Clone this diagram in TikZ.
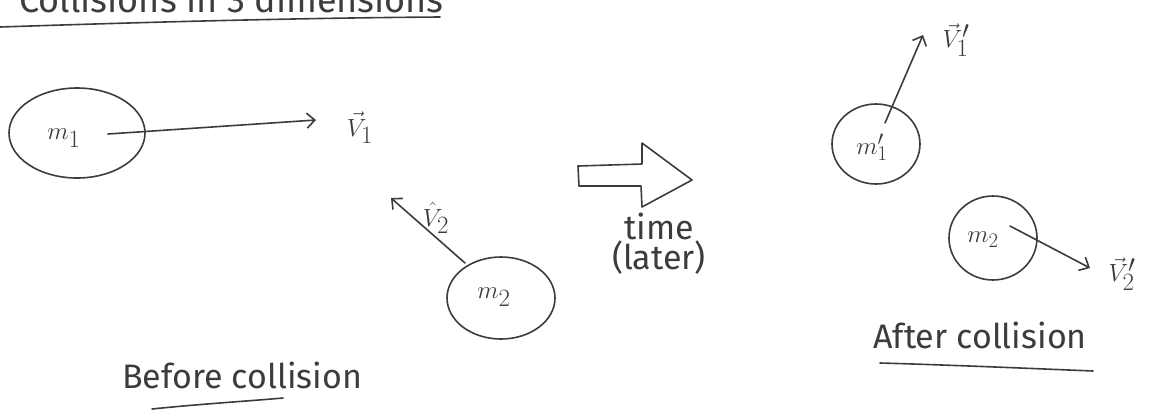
\documentclass[tikz,border=0pt]{standalone}
\usepackage{fontspec}
\setmainfont{Fira Sans}
\usetikzlibrary{arrows.meta,shapes.geometric,calc}
\definecolor{ink}{HTML}{3C3C3C}
\tikzset{
  ink/.style={draw=ink, line width=1.6pt, line cap=round, line join=round},
  ball/.style={ink, ellipse, inner sep=0pt},
  vel/.style={ink, -{Straight Barb[length=8pt,width=15pt,line width=1.6pt]}},
  lbl/.style={text=ink, inner sep=1pt, font=\fontsize{36}{40}\selectfont},
  slbl/.style={text=ink, inner sep=1pt, font=\fontsize{30}{34}\selectfont},
  txt/.style={text=ink, inner sep=1pt, font=\fontsize{34}{26}\selectfont, align=center},
}
\begin{document}
\begin{tikzpicture}[x=1pt,y=-1pt]
\useasboundingbox (0,0) rectangle (1160,416);
% cut-off title
\node[txt, anchor=base east, font=\fontsize{36}{40}\selectfont] (title) at (445,12) {Collisions in 3 dimensions};
\draw[ink] (0,27) .. controls (150,22) and (300,18) .. (440,17);

% before collision
\node[ball, minimum width=136pt, minimum height=90pt] (m1) at (77,133) {};
\node[lbl] (m1l) at (64,138) {$m_{1}$};
\node[lbl] (v1) at (360,128) {$\vec{V}_{1}$};
\coordinate (m1s) at (108,134);
\coordinate (v1e) at (316,120);
\draw[vel] (m1s) -- (v1e);

\node[ball, minimum width=108pt, minimum height=82pt] (m2) at (501,298) {};
\node[lbl] (m2l) at (494,297) {$m_{2}$};
\node[lbl] (v2) at (436,218) {$\hat{V}_{2}$};
\coordinate (m2s) at (465,263);
\coordinate (v2e) at (391,198);
\draw[vel] (m2s) -- (v2e);

\node[txt, anchor=base] (bef) at (242,388) {Before collision};
\draw[ink] (152,409) .. controls (200,404) and (250,401) .. (283,398);

% time arrow
\draw[ink] (578,166) -- (642,164) -- (642,143) -- (692,180) -- (642,207) -- (641,186) -- (579,186) -- cycle;
\node[txt, anchor=north] (time) at (659,212) {time\\(later)};

% after collision
\node[ball, minimum width=88pt, minimum height=80pt] (m1p) at (876,144) {};
\node[slbl] (m1pl) at (872,147) {$m_{1}'$};
\node[lbl] (v1p) at (956,40) {$\vec{V}_{1}'$};
\coordinate (m1ps) at (885,123);
\coordinate (v1pe) at (923,35);
\draw[vel] (m1ps) -- (v1pe);

\node[ball, minimum width=88pt, minimum height=84pt] (m2p) at (993,238) {};
\node[slbl] (m2pl) at (983,240) {$m_{2}$};
\node[lbl] (v2p) at (1122,274) {$\vec{V}_{2}'$};
\coordinate (m2ps) at (1010,226);
\coordinate (v2pe) at (1090,268);
\draw[vel] (m2ps) -- (v2pe);

\node[txt, anchor=base] (aft) at (980,348) {After collision};
\draw[ink] (880,363) .. controls (950,365) and (1020,368) .. (1093,371);
\end{tikzpicture}
\end{document}
